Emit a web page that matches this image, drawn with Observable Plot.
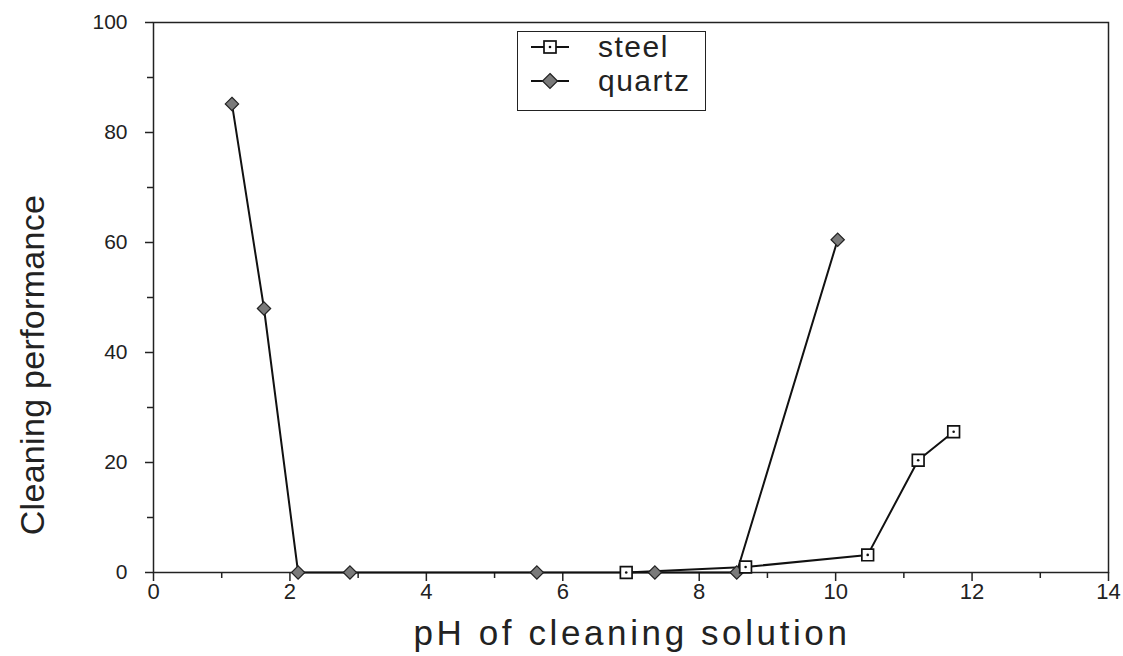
<!DOCTYPE html>
<html>
<head>
<meta charset="utf-8">
<script src="https://cdn.jsdelivr.net/npm/d3@7"></script>
<script src="https://cdn.jsdelivr.net/npm/@observablehq/plot@0.6"></script>
<style>
  html, body { margin: 0; padding: 0; background: #fff; }
  #wrap { position: relative; width: 1123px; height: 656px; font-family: "Liberation Sans", Arial, sans-serif; color: #222; }
  #wrap > svg { position: absolute; left: 0; top: 0; }
  .title { position: absolute; white-space: nowrap; color: #222; }
  #xtitle { left: 632px; top: 633px; font-size: 35px; letter-spacing: 3.6px; transform: translate(-50%, -50%); }
  #ytitle { left: 32px; top: 365px; font-size: 34px; letter-spacing: 0.3px; transform: translate(-50%, -50%) rotate(-90deg); }
  #legend { position: absolute; left: 517px; top: 31px; width: 187px; height: 78px; border: 1.5px solid #222; background: #fff; }
  #legend .row { position: absolute; left: 12px; height: 30px; display: flex; align-items: center; font-size: 30px; letter-spacing: 1.5px; }
  #legend .row svg { display: block; margin-right: 28px; }
</style>
</head>
<body>
<div id="wrap">
  <div id="xtitle" class="title">pH of cleaning solution</div>
  <div id="ytitle" class="title">Cleaning performance</div>
  <div id="legend">
    <div class="row" style="top:0px">
      <svg width="40" height="20"><line x1="1" y1="10" x2="39" y2="10" stroke="#111" stroke-width="1.8"/><rect x="14" y="4" width="12" height="12" fill="#fff" stroke="#111" stroke-width="1.7"/><circle cx="20" cy="10" r="1.3" fill="#111"/></svg>
      <span>steel</span>
    </div>
    <div class="row" style="top:34px">
      <svg width="40" height="20"><line x1="1" y1="10" x2="39" y2="10" stroke="#111" stroke-width="1.8"/><path d="M20 2.5 L27.5 10 L20 17.5 L12.5 10 Z" fill="#7a7a7a" stroke="#222" stroke-width="1.2"/></svg>
      <span>quartz</span>
    </div>
  </div>
</div>
<script>
// Data
const steelPH = [6.93, 8.68, 10.47, 11.21, 11.73];
const steelPerf = [0, 1, 3.2, 20.4, 25.6];
const quartzPH = [1.15, 1.62, 2.12, 2.88, 5.62, 7.35, 8.55, 10.03];
const quartzPerf = [85.2, 48, 0, 0, 0, 0, 0, 60.5];
const xMajorTicks = [0, 2, 4, 6, 8, 10, 12, 14];
const xMinorTicks = [1, 3, 5, 7, 9, 11, 13];
const yMajorTicks = [0, 20, 40, 60, 80, 100];
const yMinorTicks = [10, 30, 50, 70, 90];

const steel = steelPH.map((x, i) => ({x, y: steelPerf[i]}));
const quartz = quartzPH.map((x, i) => ({x, y: quartzPerf[i]}));

const diamond = d3.symbolDiamond2 || d3.symbolSquare;

const chart = Plot.plot({
  width: 1123,
  height: 656,
  marginLeft: 153,
  marginRight: 15,
  marginTop: 22,
  marginBottom: 84,
  style: {fontFamily: "Liberation Sans, Arial, sans-serif", fontSize: "21px", color: "#222", background: "transparent"},
  x: {domain: [0, 14]},
  y: {domain: [0, 100]},
  marks: [
    Plot.frame({stroke: "#222", strokeWidth: 1.5}),
    Plot.axisX(xMajorTicks, {tickSize: 9, tickPadding: 2, label: null, fontSize: 22, stroke: "#222", strokeWidth: 1.5}),
    Plot.axisX(xMinorTicks, {tickSize: 6, tickFormat: () => "", label: null, stroke: "#222", strokeWidth: 1.5}),
    Plot.axisY(yMajorTicks, {tickSize: 8, tickPadding: 18, label: null, fontSize: 21, stroke: "#222", strokeWidth: 1.5}),
    Plot.axisY(yMinorTicks, {tickSize: 6, tickFormat: () => "", label: null, stroke: "#222", strokeWidth: 1.5}),
    Plot.line(quartz, {x: "x", y: "y", stroke: "#111", strokeWidth: 2}),
    Plot.line(steel, {x: "x", y: "y", stroke: "#111", strokeWidth: 2}),
    Plot.dot(quartz, {x: "x", y: "y", symbol: diamond, r: 6, fill: "#7a7a7a", stroke: "#222", strokeWidth: 1.2}),
    Plot.dot(steel, {x: "x", y: "y", symbol: "square", r: 6.6, fill: "#fff", stroke: "#111", strokeWidth: 1.7}),
    Plot.dot(steel, {x: "x", y: "y", r: 1.3, fill: "#111"})
  ]
});
document.getElementById("wrap").prepend(chart);
</script>
</body>
</html>
